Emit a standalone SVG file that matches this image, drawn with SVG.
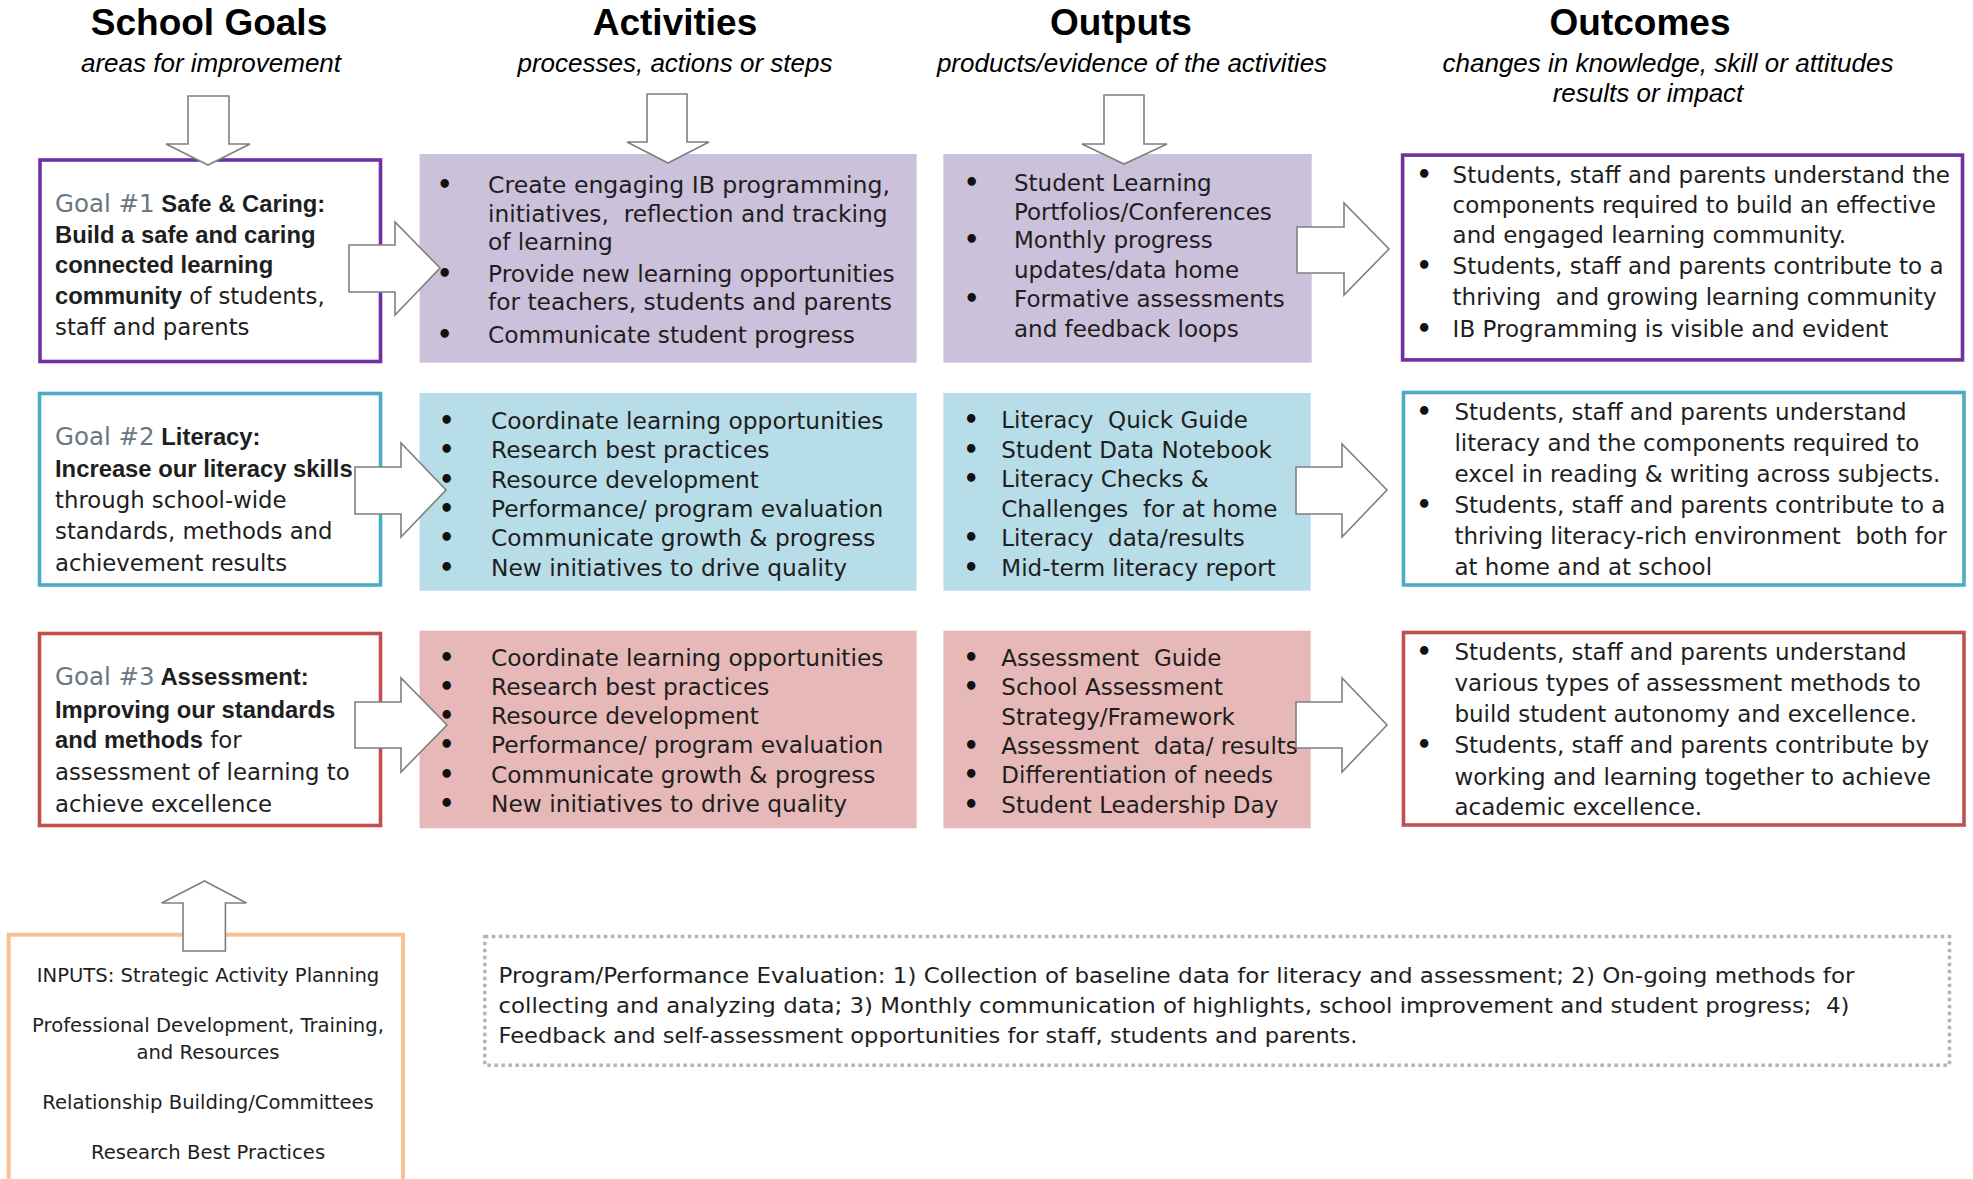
<svg xmlns="http://www.w3.org/2000/svg" width="1973" height="1179" viewBox="0 0 1973 1179">
<style>
.h{font-family:"Liberation Sans",Arial,sans-serif;font-weight:bold;font-size:37px;text-anchor:middle;fill:#000}
.s{font-family:"Liberation Sans",Arial,sans-serif;font-style:italic;font-size:26px;text-anchor:middle;fill:#000}
.t{font-family:"DejaVu Sans",sans-serif;font-size:23px;fill:#1e1e1e}
.ta{font-family:"DejaVu Sans",sans-serif;font-size:23.3px;fill:#1e1e1e}
.g{font-family:"DejaVu Sans",sans-serif;font-size:22.8px;fill:#1e1e1e}
.gl{fill:#6a7781;font-size:24.5px}
.b{font-family:"Liberation Sans",Arial,sans-serif;font-weight:700;font-size:23.8px}
.bu{font-family:"DejaVu Sans",sans-serif;font-size:24px;font-weight:bold;fill:#111}
.in{font-family:"DejaVu Sans",sans-serif;font-size:19.6px;fill:#1e1e1e;text-anchor:middle}
.p{font-family:"DejaVu Sans",sans-serif;font-size:20.5px;fill:#1e1e1e}
.arr{fill:#fff;stroke:#7f7f7f;stroke-width:1.6;stroke-linejoin:miter}
.gb{fill:#fff;stroke-width:3.6}
</style>

<g id="headers">
<text class="h" x="209" y="35">School Goals</text>
<text class="s" x="211" y="72">areas for improvement</text>
<text class="h" x="675" y="35">Activities</text>
<text class="s" x="675" y="72">processes, actions or steps</text>
<text class="h" x="1121" y="35">Outputs</text>
<text class="s" x="1132" y="72">products/evidence of the activities</text>
<text class="h" x="1640" y="35">Outcomes</text>
<text class="s" x="1668" y="72"><tspan x="1668" y="72">changes in knowledge, skill or attitudes</tspan><tspan x="1648" y="102">results or impact</tspan></text>
</g>

<g id="goal1">
<rect class="gb" x="40" y="160" width="340.5" height="201.5" stroke="#7030a0"/>
<text class="g"><tspan x="55" y="211.7" class="gl">Goal #1</tspan><tspan class="b"> Safe &amp; Caring:</tspan><tspan class="b" x="55" y="242.7">Build a safe and caring</tspan><tspan class="b" x="55" y="273">connected learning</tspan><tspan class="b" x="55" y="304">community</tspan><tspan> of students,</tspan><tspan x="55" y="335">staff and parents</tspan></text>
</g>

<g id="goal2">
<rect class="gb" x="39.5" y="393.5" width="341" height="191.5" stroke="#4bacc6"/>
<text class="g"><tspan x="55" y="445" class="gl">Goal #2</tspan><tspan class="b"> Literacy:</tspan><tspan class="b" x="55" y="476.7">Increase our literacy skills</tspan><tspan x="55" y="508">through school-wide</tspan><tspan x="55" y="539">standards, methods and</tspan><tspan x="55" y="570.7">achievement results</tspan></text>
</g>

<g id="goal3">
<rect class="gb" x="39.5" y="633.5" width="341" height="192" stroke="#c0504d"/>
<text class="g"><tspan x="55" y="685" class="gl">Goal #3</tspan><tspan class="b"> Assessment:</tspan><tspan class="b" x="55" y="717.7">Improving our standards</tspan><tspan class="b" x="55" y="748.3">and methods</tspan><tspan> for</tspan><tspan x="55" y="780">assessment of learning to</tspan><tspan x="55" y="811.7">achieve excellence</tspan></text>
</g>

<g id="activities1">
<rect x="419.6" y="154" width="497" height="208.7" fill="#ccc1da"/>
<text class="bu"><tspan x="437" y="192.7">•</tspan><tspan x="437" y="281.7">•</tspan><tspan x="437" y="342.7">•</tspan></text>
<text class="ta" xml:space="preserve"><tspan x="488" y="192.7" textLength="402" lengthAdjust="spacingAndGlyphs">Create engaging IB programming,</tspan><tspan x="488" y="221.7">initiatives,  reflection and tracking</tspan><tspan x="488" y="250">of learning</tspan><tspan x="488" y="281.7">Provide new learning opportunities</tspan><tspan x="488" y="310">for teachers, students and parents</tspan><tspan x="488" y="342.7">Communicate student progress</tspan></text>
</g>

<g id="activities2">
<rect x="419.6" y="393" width="497" height="197.7" fill="#b7dde8"/>
<text class="bu"><tspan x="439" y="429.3">•</tspan><tspan x="439" y="458.3">•</tspan><tspan x="439" y="488.3">•</tspan><tspan x="439" y="516.7">•</tspan><tspan x="439" y="545.7">•</tspan><tspan x="439" y="575.7">•</tspan></text>
<text class="ta"><tspan x="491" y="429.3">Coordinate learning opportunities</tspan><tspan x="491" y="458.3">Research best practices</tspan><tspan x="491" y="488.3">Resource development</tspan><tspan x="491" y="516.7">Performance/ program evaluation</tspan><tspan x="491" y="545.7">Communicate growth &amp; progress</tspan><tspan x="491" y="575.7">New initiatives to drive quality</tspan></text>
</g>

<g id="activities3">
<rect x="419.6" y="630.7" width="497" height="197.6" fill="#e6b9b8"/>
<text class="bu"><tspan x="439" y="666">•</tspan><tspan x="439" y="695">•</tspan><tspan x="439" y="724">•</tspan><tspan x="439" y="753.3">•</tspan><tspan x="439" y="783.3">•</tspan><tspan x="439" y="812.3">•</tspan></text>
<text class="ta"><tspan x="491" y="666">Coordinate learning opportunities</tspan><tspan x="491" y="695">Research best practices</tspan><tspan x="491" y="724">Resource development</tspan><tspan x="491" y="753.3">Performance/ program evaluation</tspan><tspan x="491" y="783.3">Communicate growth &amp; progress</tspan><tspan x="491" y="812.3">New initiatives to drive quality</tspan></text>
</g>

<g id="outputs1">
<rect x="943.4" y="154" width="368.3" height="208.7" fill="#ccc1da"/>
<text class="bu"><tspan x="964" y="190.7">•</tspan><tspan x="964" y="248">•</tspan><tspan x="964" y="307">•</tspan></text>
<text class="t"><tspan x="1014" y="190.7">Student Learning</tspan><tspan x="1014" y="220">Portfolios/Conferences</tspan><tspan x="1014" y="248">Monthly progress</tspan><tspan x="1014" y="278">updates/data home</tspan><tspan x="1014" y="307">Formative assessments</tspan><tspan x="1014" y="337">and feedback loops</tspan></text>
</g>

<g id="outputs2">
<rect x="943.4" y="393" width="367.3" height="197.7" fill="#b7dde8"/>
<text class="bu"><tspan x="963.5" y="428.3">•</tspan><tspan x="963.5" y="458.3">•</tspan><tspan x="963.5" y="486.7">•</tspan><tspan x="963.5" y="545.7">•</tspan><tspan x="963.5" y="575.7">•</tspan></text>
<text class="t" xml:space="preserve"><tspan x="1001.3" y="428.3">Literacy  Quick Guide</tspan><tspan x="1001.3" y="458.3">Student Data Notebook</tspan><tspan x="1001.3" y="486.7">Literacy Checks &amp;</tspan><tspan x="1001.3" y="516.7">Challenges  for at home</tspan><tspan x="1001.3" y="545.7">Literacy  data/results</tspan><tspan x="1001.3" y="575.7">Mid-term literacy report</tspan></text>
</g>

<g id="outputs3">
<rect x="943.4" y="630.7" width="367.3" height="197.6" fill="#e6b9b8"/>
<text class="bu"><tspan x="963.5" y="666">•</tspan><tspan x="963.5" y="695">•</tspan><tspan x="963.5" y="754">•</tspan><tspan x="963.5" y="783.3">•</tspan><tspan x="963.5" y="812.7">•</tspan></text>
<text class="t" xml:space="preserve"><tspan x="1001.3" y="666">Assessment  Guide</tspan><tspan x="1001.3" y="695">School Assessment</tspan><tspan x="1001.3" y="725">Strategy/Framework</tspan><tspan x="1001.3" y="754">Assessment  data/ results</tspan><tspan x="1001.3" y="783.3">Differentiation of needs</tspan><tspan x="1001.3" y="812.7">Student Leadership Day</tspan></text>
</g>

<g id="outcomes1">
<rect class="gb" x="1402.6" y="155.1" width="559.9" height="204.8" stroke="#7030a0"/>
<text class="bu"><tspan x="1416.5" y="183.3">•</tspan><tspan x="1416.5" y="274">•</tspan><tspan x="1416.5" y="336.7">•</tspan></text>
<text class="t" xml:space="preserve"><tspan x="1452.6" y="183.3">Students, staff and parents understand the</tspan><tspan x="1452.6" y="212.7">components required to build an effective</tspan><tspan x="1452.6" y="243.3">and engaged learning community.</tspan><tspan x="1452.6" y="274">Students, staff and parents contribute to a</tspan><tspan x="1452.6" y="305">thriving  and growing learning community</tspan><tspan x="1452.6" y="336.7">IB Programming is visible and evident</tspan></text>
</g>

<g id="outcomes2">
<rect class="gb" x="1403.5" y="392.5" width="560.5" height="192.5" stroke="#4bacc6"/>
<text class="bu"><tspan x="1416.6" y="420">•</tspan><tspan x="1416.6" y="513.3">•</tspan></text>
<text class="t" xml:space="preserve"><tspan x="1454.4" y="420">Students, staff and parents understand</tspan><tspan x="1454.4" y="450.7">literacy and the components required to</tspan><tspan x="1454.4" y="481.7">excel in reading &amp; writing across subjects.</tspan><tspan x="1454.4" y="513.3">Students, staff and parents contribute to a</tspan><tspan x="1454.4" y="544">thriving literacy-rich environment  both for</tspan><tspan x="1454.4" y="575">at home and at school</tspan></text>
</g>

<g id="outcomes3">
<rect class="gb" x="1403.5" y="632.5" width="560.5" height="192.5" stroke="#c0504d"/>
<text class="bu"><tspan x="1416.6" y="660">•</tspan><tspan x="1416.6" y="753.3">•</tspan></text>
<text class="t"><tspan x="1454.4" y="660">Students, staff and parents understand</tspan><tspan x="1454.4" y="690.7">various types of assessment methods to</tspan><tspan x="1454.4" y="721.7">build student autonomy and excellence.</tspan><tspan x="1454.4" y="753.3">Students, staff and parents contribute by</tspan><tspan x="1454.4" y="785">working and learning together to achieve</tspan><tspan x="1454.4" y="815">academic excellence.</tspan></text>
</g>

<g id="inputs">
<rect x="8.7" y="934.7" width="394.3" height="270" fill="#fff" stroke="#fac090" stroke-width="4"/>
<text class="in"><tspan x="208" y="981.7">INPUTS: Strategic Activity Planning</tspan><tspan x="208" y="1031.7">Professional Development, Training,</tspan><tspan x="208" y="1059.3">and Resources</tspan><tspan x="208" y="1109.3">Relationship Building/Committees</tspan><tspan x="208" y="1159.3">Research Best Practices</tspan></text>
</g>

<g id="evaluation">
<rect x="484.8" y="936.5" width="1464.7" height="128.7" fill="none" stroke="#b4b4b4" stroke-width="3.5" stroke-dasharray="3.5 3.5"/>
<text class="p" xml:space="preserve"><tspan x="498.5" y="983.3" textLength="1356" lengthAdjust="spacingAndGlyphs">Program/Performance Evaluation: 1) Collection of baseline data for literacy and assessment; 2) On-going methods for</tspan><tspan x="498.5" y="1013" textLength="1351" lengthAdjust="spacingAndGlyphs">collecting and analyzing data; 3) Monthly communication of highlights, school improvement and student progress;  4)</tspan><tspan x="498.5" y="1043" textLength="859" lengthAdjust="spacingAndGlyphs">Feedback and self-assessment opportunities for staff, students and parents.</tspan></text>
</g>

<g id="connectors">
<path class="arr" d="M188,96 H229 V144 H250 L208,165 L166,144 H188 Z"/>
<path class="arr" d="M647,94 H687 V142 H709 L668,163 L627,142 H647 Z"/>
<path class="arr" d="M1104,95 H1144 V144 H1167 L1124,164 L1082,144 H1104 Z"/>
<path class="arr" d="M349,245 H395 V222 L440,268 L395,315 V292 H349 Z"/>
<path class="arr" d="M355,467 H401 V443 L446,490 L401,537 V514 H355 Z"/>
<path class="arr" d="M355,702 H401 V678 L447,725 L401,772 V748 H355 Z"/>
<path class="arr" d="M1297,227 H1344 V203 L1389,249 L1344,295 V273 H1297 Z"/>
<path class="arr" d="M1296,467 H1342 V444 L1387,490 L1342,537 V514 H1296 Z"/>
<path class="arr" d="M1296,702 H1342 V678 L1387,725 L1342,772 V748 H1296 Z"/>
<path class="arr" d="M183,951 V903 H161.6 L204.5,881 L246.4,903 H225.4 V951 Z"/>
</g>
</svg>
